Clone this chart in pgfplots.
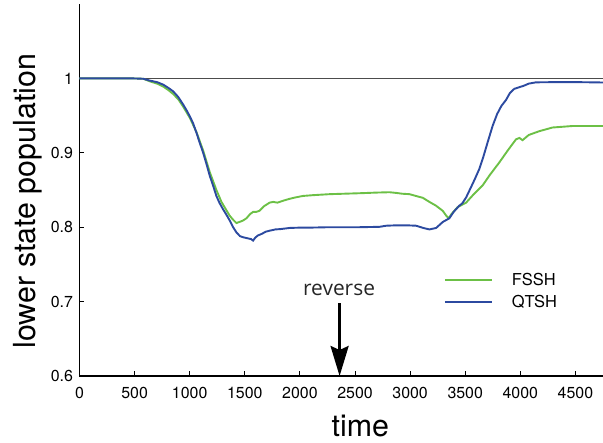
\documentclass[border=0pt]{standalone}
\usepackage{fontspec}
\setmainfont{TeX Gyre Heros}
\newfontfamily\revfont{Open Sans}
\usepackage{pgfplots}
\pgfplotsset{compat=1.18}
\usetikzlibrary{arrows.meta}
\definecolor{fssh}{RGB}{108,192,70}
\definecolor{qtsh}{RGB}{44,74,160}
\begin{document}
\begin{tikzpicture}
\begin{axis}[
    scale only axis,
    width=523.5bp, height=372bp,
    xmin=0, xmax=4750,
    ymin=0.6, ymax=1.1,
    axis lines=left,
    axis line style={-, line width=1.6bp},
    tick align=inside,
    major tick length=5bp,
    tick style={black, line width=0.9bp},
    xtick={0,500,...,4500},
    ytick={0.6,0.7,0.8,0.9,1},
    yticklabels={0.6,0.7,0.8,0.9,1},
    /pgf/number format/assume math mode=true,
    /pgf/number format/1000 sep={},
    tick label style={font=\fontsize{16}{19}\selectfont},
    xticklabel style={yshift=-8bp},
    yticklabel style={xshift=-3bp},
    xlabel={time},
    ylabel={lower state population},
    label style={font=\fontsize{30.5}{34}\selectfont},
    ylabel style={at={(axis description cs:-0.098,0.47)}, anchor=center},
    xlabel style={at={(axis cs:2548,0.6)}, anchor=base, yshift=-60bp},
    legend style={draw=none, fill=none, at={(rel axis cs:0.69,0.288)}, anchor=north west,
        font=\fontsize{16.5}{19}\selectfont, row sep=4bp},
    legend cell align=left,
    legend image code/.code={\draw[#1] (0bp,0bp) -- (47bp,0bp); \path (64bp,0bp);},
]
\coordinate (bl) at (rel axis cs:0,0);
\coordinate (tr) at (rel axis cs:1,1);
\addplot[forget plot, black!70, line width=0.7bp] coordinates {(0,1) (4750,1)};
\addplot[fssh, line width=1.9bp] coordinates {
(0,1.0) (484,1.0) (579,0.9995) (639,0.996) (704,0.993) (760,0.989) (809,0.984)
(850,0.979) (896,0.972) (941,0.962) (1001,0.947) (1061,0.928) (1122,0.903)
(1182,0.874) (1242,0.850) (1288,0.834) (1332,0.823) (1363,0.8154) (1394,0.810)
(1424,0.8056) (1451,0.807) (1484,0.809) (1515,0.812) (1547,0.8175) (1576,0.8207)
(1605,0.8207) (1633,0.822) (1672,0.828) (1725,0.833) (1758,0.834) (1796,0.833)
(1846,0.8355) (1902,0.838) (1959,0.840) (2027,0.842) (2113,0.843) (2269,0.8444)
(2400,0.845) (2571,0.8458) (2687,0.8465) (2812,0.847) (2879,0.846) (2927,0.845)
(2994,0.8444) (3052,0.842) (3115,0.8395) (3175,0.834) (3234,0.829) (3296,0.822)
(3330,0.815) (3349,0.812) (3377,0.818) (3431,0.827) (3508,0.833) (3569,0.843)
(3657,0.856) (3722,0.870) (3809,0.887) (3885,0.903) (3960,0.918) (3991,0.920)
(4020,0.917) (4077,0.924) (4171,0.929) (4292,0.934) (4473,0.936) (4750,0.936)
};
\addplot[qtsh, line width=1.9bp] coordinates {
(0,1.0) (484,1.0) (579,0.9995) (639,0.997) (704,0.995) (760,0.9916) (809,0.987)
(850,0.9826) (896,0.975) (941,0.9648) (972,0.957) (1001,0.949) (1030,0.940)
(1061,0.927) (1092,0.913) (1122,0.900) (1154,0.884) (1182,0.869) (1212,0.856)
(1242,0.842) (1269,0.833) (1303,0.824) (1332,0.817) (1363,0.809) (1394,0.800)
(1424,0.793) (1456,0.788) (1484,0.7865) (1528,0.785) (1557,0.784) (1575,0.782)
(1595,0.786) (1620,0.789) (1653,0.791) (1691,0.794) (1725,0.7953) (1777,0.797)
(1825,0.7975) (1907,0.799) (2017,0.7995) (2113,0.7995) (2269,0.800) (2400,0.800)
(2544,0.800) (2722,0.8005) (2783,0.802) (2872,0.8025) (2975,0.8025) (3054,0.802)
(3119,0.799) (3175,0.797) (3236,0.799) (3296,0.807) (3356,0.812) (3397,0.821)
(3447,0.829) (3473,0.832) (3508,0.840) (3550,0.853) (3588,0.865) (3627,0.878)
(3665,0.895) (3703,0.914) (3748,0.936) (3789,0.952) (3828,0.963) (3870,0.971)
(3904,0.980) (3945,0.986) (4029,0.990) (4077,0.993) (4141,0.9947) (4316,0.995)
(4508,0.995) (4750,0.9945)
};
\draw[-{Stealth[width=18bp,length=30bp,inset=4bp]}, line width=2.6bp] (axis cs:2360,0.698) -- (axis cs:2360,0.6);
\node[font=\revfont\fontsize{21}{24}\selectfont, anchor=base, text=black!85] at (axis cs:2355,0.708) {reverse};
\legend{FSSH,QTSH}
\end{axis}
\pgfresetboundingbox
\path[use as bounding box] (bl) ++(-79.5bp,-67bp) rectangle ([yshift=4bp]tr);
\end{tikzpicture}
\end{document}
